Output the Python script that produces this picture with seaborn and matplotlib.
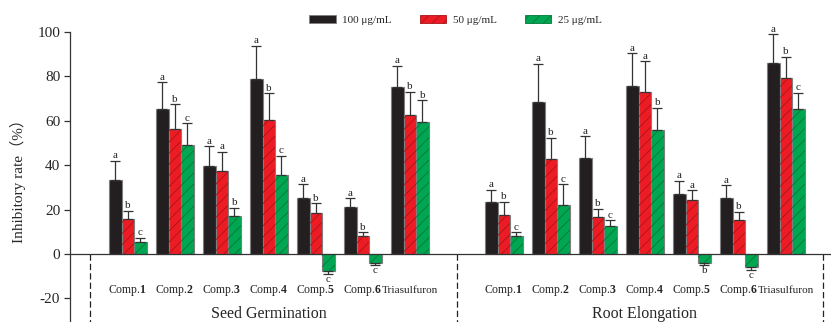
import matplotlib
matplotlib.use("Agg")
import matplotlib.pyplot as plt
import seaborn as sns
import pandas as pd
import numpy as np
from matplotlib.patches import Patch, Rectangle

# ---------------- data ----------------
compounds = ["1", "2", "3", "4", "5", "6", "Triasulfuron"]
groups = ["Seed Germination", "Root Elongation"]
concs = ["100 μg/mL", "50 μg/mL", "25 μg/mL"]

seed_100 = [33.3, 65.3, 39.6, 78.7, 25.4, 21.3, 75.4]
seed_100_err = [8.6, 12.0, 8.9, 15.1, 6.0, 3.8, 9.4]
seed_50 = [15.6, 56.2, 37.5, 60.4, 18.6, 8.3, 62.6]
seed_50_err = [3.9, 11.2, 8.6, 12.0, 4.2, 1.5, 10.5]
seed_25 = [5.4, 49.2, 17.3, 35.6, -7.5, -3.9, 59.6]
seed_25_err = [1.9, 9.7, 3.6, 8.7, 1.5, 1.1, 9.6]

root_100 = [23.6, 68.5, 43.2, 75.5, 27.2, 25.4, 85.9]
root_100_err = [5.4, 17.1, 9.8, 14.9, 5.8, 5.5, 13.1]
root_50 = [17.6, 42.9, 16.8, 72.8, 24.2, 15.3, 79.4]
root_50_err = [6.0, 9.4, 3.6, 14.0, 4.5, 3.6, 9.5]
root_25 = [8.3, 22.1, 12.6, 55.7, -4.2, -5.7, 65.2]
root_25_err = [1.5, 9.3, 2.6, 10.2, 0.9, 1.5, 7.5]

seed_letters_100 = ["a", "a", "a", "a", "a", "a", "a"]
seed_letters_50 = ["b", "b", "a", "b", "b", "b", "b"]
seed_letters_25 = ["c", "c", "b", "c", "c", "c", "b"]
root_letters_100 = ["a", "a", "a", "a", "a", "a", "a"]
root_letters_50 = ["b", "b", "b", "a", "a", "b", "b"]
root_letters_25 = ["c", "c", "c", "b", "b", "c", "c"]

colors = ["#231f20", "#ed1c24", "#00a651"]
hatch_colors = [None, "#a8141a", "#00783a"]

# ---------------- build table ----------------
rows = []
series = {
    (0, 0): (seed_100, seed_100_err, seed_letters_100),
    (0, 1): (seed_50, seed_50_err, seed_letters_50),
    (0, 2): (seed_25, seed_25_err, seed_letters_25),
    (1, 0): (root_100, root_100_err, root_letters_100),
    (1, 1): (root_50, root_50_err, root_letters_50),
    (1, 2): (root_25, root_25_err, root_letters_25),
}
for (g, c), (vals, errs, lets) in series.items():
    for i in range(len(compounds)):
        rows.append(dict(pos=float(g * 8 + i), conc=concs[c], ci=c,
                         value=vals[i], err=errs[i], letter=lets[i]))
df = pd.DataFrame(rows)

# ---------------- style ----------------
sns.set_style("white")
plt.rcParams["font.family"] = ["Liberation Serif", "DejaVu Serif"]
plt.rcParams["mathtext.fontset"] = "custom"
plt.rcParams["mathtext.rm"] = "Liberation Serif"
plt.rcParams["mathtext.bf"] = "Liberation Serif:bold"
plt.rcParams["hatch.linewidth"] = 0.6
plt.rcParams["axes.unicode_minus"] = False

fig = plt.figure(figsize=(8.31, 3.22), dpi=100)
ax = fig.add_axes([0.0842, 0.0, 0.9158, 0.9006])

sns.barplot(data=df, x="pos", y="value", hue="conc", hue_order=concs,
            palette=colors, native_scale=True, errorbar=None, width=0.8,
            legend=False, ax=ax, edgecolor="#7f7f7f", linewidth=0.8,
            saturation=1)

# match patches to rows
patches = [p for p in ax.patches if p.get_width() > 0]
patches.sort(key=lambda p: p.get_x())
dsorted = df.sort_values(["pos", "ci"]).reset_index(drop=True)

for p, (_, r) in zip(patches, dsorted.iterrows()):
    xc = p.get_x() + p.get_width() / 2
    h = p.get_height()
    if r.ci > 0:
        ov = Rectangle((p.get_x(), p.get_y()), p.get_width(), h, fill=False,
                       hatch="///", edgecolor=hatch_colors[r.ci], linewidth=0,
                       zorder=p.get_zorder() + 0.1)
        ax.add_patch(ov)
    if r.value >= 0:
        yerr = [[0], [r.err]]
        top = r.value + r.err
        ax.annotate(r.letter, (xc, top), xytext=(0, 0.5), textcoords="offset points",
                    ha="center", va="bottom", fontsize=8, color="#222222")
    else:
        yerr = [[r.err], [0]]
        top = r.value - r.err
        ax.annotate(r.letter, (xc, top), xytext=(0, -0.5), textcoords="offset points",
                    ha="center", va="top", fontsize=8, color="#222222")
    ax.errorbar([xc], [r.value], yerr=yerr, fmt="none", ecolor="#333333",
                elinewidth=0.9, capsize=3.3, capthick=0.9, zorder=1)

# axes
ax.set_xlim(-1.23, 14.96)
ax.set_ylim(-30.6, 100)
ax.set_yticks([-20, 0, 20, 40, 60, 80, 100])
ax.set_xticks([])
ax.set_xlabel("")
ax.set_ylabel("Inhibitory rate（%）", fontsize=11,
              family=["Liberation Serif", "Noto Sans CJK SC"], labelpad=8)
for s in ["top", "right", "bottom"]:
    ax.spines[s].set_visible(False)
ax.spines["left"].set_color("#333333")
ax.spines["left"].set_linewidth(0.9)
ax.tick_params(axis="y", left=True, direction="out", length=4, width=0.9,
               color="#333333", labelsize=11, pad=3)
ax.axhline(0, color="#333333", lw=0.9, zorder=3)

for xv in [-0.8, 7.0, 14.8]:
    ax.plot([xv, xv], [0, -31], color="#222222", lw=0.9,
            linestyle=(0, (5, 2.5)), clip_on=False)

for g in range(2):
    for i, c in enumerate(compounds):
        if c == "Triasulfuron":
            ax.text(g * 8 + i, -16.5, c, ha="center", va="center", fontsize=8.1)
        else:
            ax.text(g * 8 + i, -16.5, r"Comp.$\mathbf{" + c + "}$",
                    ha="center", va="center", fontsize=8.5)
    ax.text(g * 8 + 3, -27.0, groups[g], ha="center", va="center", fontsize=11.5)

handles = [
    Patch(facecolor=colors[0], edgecolor="#7f7f7f", linewidth=0.6, label=concs[0]),
    Patch(facecolor=colors[1], edgecolor=hatch_colors[1], linewidth=0.6, hatch="///", label=concs[1]),
    Patch(facecolor=colors[2], edgecolor=hatch_colors[2], linewidth=0.6, hatch="///", label=concs[2]),
]
fig.legend(handles=handles, loc="center", bbox_to_anchor=(0.548, 0.938), ncol=3,
           frameon=False, fontsize=8, handlelength=2.4, handleheight=0.75,
           handletextpad=0.6, columnspacing=2.5)

fig.savefig("out.png", dpi=100)
